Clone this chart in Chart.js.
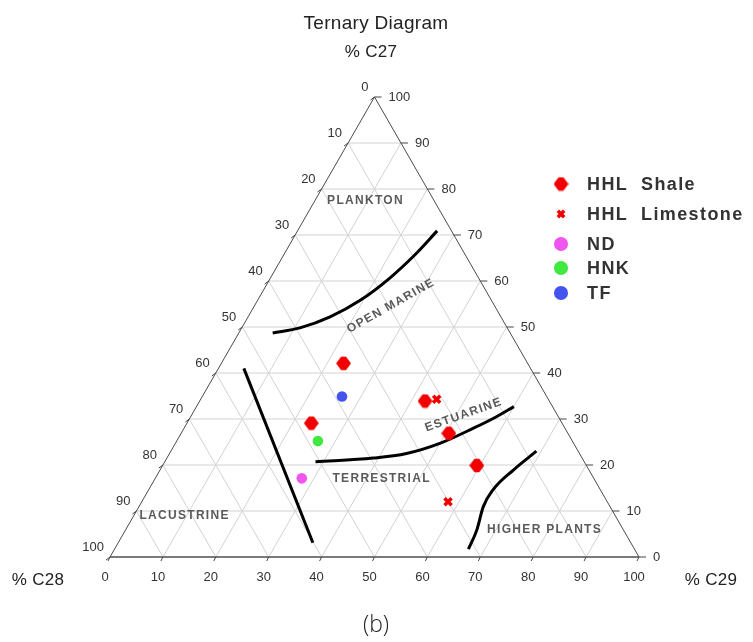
<!DOCTYPE html>
<html>
<head>
<meta charset="utf-8">
<script src="https://cdn.jsdelivr.net/npm/chart.js@4.4.1/dist/chart.umd.min.js"></script>
<style>
  html, body { margin: 0; padding: 0; background: #fff; }
  #wrap { width: 753px; height: 642px; }
</style>
</head>
<body>
<div id="wrap"><canvas id="chart" width="753" height="642"></canvas></div>
<script>
const seriesNames = ["HHL Shale", "HHL Limestone", "ND", "HNK", "TF"];
const seriesColors = ["#f20000", "#f20000", "#f055f0", "#40e840", "#4554ee"];

const shaleC27 = [42.1, 33.9, 29.1, 26.9, 19.9];
const shaleC28 = [34.8, 23.5, 47.4, 22.5, 20.7];
const shaleC29 = [23.1, 42.6, 23.5, 50.6, 59.4];

const limeC27 = [34.3, 12.0];
const limeC28 = [21.1, 30.1];
const limeC29 = [44.6, 57.9];

const ndC27 = [17.1];
const ndC28 = [55.2];
const ndC29 = [27.7];

const hnkC27 = [25.2];
const hnkC28 = [48.1];
const hnkC29 = [26.7];

const tfC27 = [34.9];
const tfC28 = [38.7];
const tfC29 = [26.4];

// field boundaries (% C27, % C29)
const marineC27 = [48.7, 49.8, 52.2, 55.8, 60.7, 65.7, 70.9];
const marineC29 = [6.4, 11.0, 15.5, 19.4, 22.6, 24.8, 26.4];
const lacusC27 = [41.0, 3.1];
const lacusC29 = [4.8, 36.8];
const estuC27 = [20.7, 21.5, 22.5, 24.7, 28.0, 30.5, 32.7];
const estuC29 = [28.5, 39.0, 44.8, 50.0, 54.7, 57.8, 60.0];
const plantsC27 = [23.0, 18.9, 14.6, 10.9, 5.9, 1.7];
const plantsC29 = [69.1, 66.8, 65.1, 65.1, 66.4, 66.9];

const tickValues = [0, 10, 20, 30, 40, 50, 60, 70, 80, 90, 100];

const fieldNames = ["PLANKTON", "OPEN MARINE", "ESTUARINE", "TERRESTRIAL", "LACUSTRINE", "HIGHER PLANTS"];
const fieldC27 = [77.4, 54.6, 30.9, 17.1, 9.0, 5.9];
const fieldC29 = [9.6, 25.8, 51.4, 42.8, 9.6, 79.2];
const fieldAngle = [0, -29.5, -19.5, 0, 0, 0];

// ternary -> plane
const toXY = (c27, c29) => ({ x: c29 + c27 / 2, y: c27 });
const pts = (a27, a29) => a27.map((v, i) => toXY(v, a29[i]));

// blunt diamond used for the shale marker
function makeGem(color) {
  const c = document.createElement("canvas");
  c.width = 15; c.height = 15;
  const g = c.getContext("2d");
  g.fillStyle = color;
  g.strokeStyle = color;
  g.lineJoin = "round";
  g.lineWidth = 1.5;
  g.beginPath();
  g.moveTo(5.5, 1.5); g.lineTo(9.5, 1.5); g.lineTo(14, 7.5);
  g.lineTo(9.5, 13.5); g.lineTo(5.5, 13.5); g.lineTo(1, 7.5);
  g.closePath();
  g.fill();
  g.stroke();
  return c;
}
const gem = makeGem(seriesColors[0]);
const seriesStyles = [gem, "crossRot", "circle", "circle", "circle"];

const sampleData = [
  pts(shaleC27, shaleC29),
  pts(limeC27, limeC29),
  pts(ndC27, ndC29),
  pts(hnkC27, hnkC29),
  pts(tfC27, tfC29)
];

const datasets = [];

sampleData.forEach((d, i) => {
  const cross = seriesStyles[i] === "crossRot";
  datasets.push({
    label: seriesNames[i],
    data: d,
    showLine: false,
    pointStyle: seriesStyles[i],
    pointRadius: cross ? 5 : 5.3,
    pointBorderWidth: cross ? 3.5 : 0,
    backgroundColor: seriesColors[i],
    borderColor: seriesColors[i],
    order: 0
  });
});

function lineSet(data, color, width, order, smooth) {
  return {
    data: data,
    showLine: true,
    pointRadius: 0,
    borderColor: color,
    borderWidth: width,
    cubicInterpolationMode: smooth ? "monotone" : "default",
    fill: false,
    order: order
  };
}

datasets.push(lineSet(pts(marineC27, marineC29), "#000", 3, 1, true));
datasets.push(lineSet(pts(lacusC27, lacusC29), "#000", 3, 1));
datasets.push(lineSet(pts(estuC27, estuC29), "#000", 3, 1, true));
datasets.push(lineSet(pts(plantsC27, plantsC29), "#000", 3, 1, true));

// triangle outline
datasets.push(lineSet([toXY(0, 0), toXY(100, 0), toXY(0, 100)], "#4a4a4a", 1, 2));
datasets.push(lineSet([toXY(0, 0), toXY(0, 100)], "#7a7a7a", 2, 2));

// grid
tickValues.slice(1, -1).forEach(k => {
  datasets.push(lineSet([toXY(k, 0), toXY(k, 100 - k)], "#d2d2d2", 1, 3));
  datasets.push(lineSet([toXY(0, k), toXY(100 - k, k)], "#d2d2d2", 1, 3));
  datasets.push(lineSet([toXY(0, 100 - k), toXY(100 - k, 0)], "#d2d2d2", 1, 3));
});

const ternaryDecor = {
  id: "ternaryDecor",
  afterDraw(chart) {
    const ctx = chart.ctx;
    const xs = chart.scales.x, ys = chart.scales.y;
    const P = (c27, c29) => {
      const p = toXY(c27, c29);
      return [xs.getPixelForValue(p.x), ys.getPixelForValue(p.y)];
    };
    ctx.save();

    // ticks and tick labels
    ctx.strokeStyle = "#444";
    ctx.lineWidth = 1;
    ctx.fillStyle = "#333";
    ctx.font = "13px 'Liberation Sans', Arial, sans-serif";
    tickValues.forEach(k => {
      // left: % C28
      let [x, y] = P(100 - k, 0);
      ctx.beginPath(); ctx.moveTo(x, y); ctx.lineTo(x - 4, y + 3); ctx.stroke();
      ctx.textAlign = "right"; ctx.textBaseline = "middle";
      ctx.fillText(String(k), x - 6, y - 10);
      // right: % C27
      [x, y] = P(k, 100 - k);
      ctx.beginPath(); ctx.moveTo(x, y); ctx.lineTo(x + 7, y); ctx.stroke();
      ctx.textAlign = "left";
      ctx.fillText(String(k), x + 14, y);
      // bottom: % C29
      [x, y] = P(0, k);
      ctx.beginPath(); ctx.moveTo(x, y); ctx.lineTo(x - 2, y + 4); ctx.stroke();
      ctx.textAlign = "center";
      ctx.fillText(String(k), x - 5, y + 20);
    });

    // axis names and title
    ctx.fillStyle = "#222";
    ctx.textAlign = "center"; ctx.textBaseline = "middle";
    ctx.font = "19px 'Liberation Sans', Arial, sans-serif";
    ctx.letterSpacing = "0.3px";
    ctx.fillText("Ternary Diagram", 376, 24);
    ctx.font = "17px 'Liberation Sans', Arial, sans-serif";
    ctx.fillText("% C27", 371, 52);
    ctx.fillText("% C28", 38, 580);
    ctx.fillText("% C29", 711, 580);
    ctx.letterSpacing = "0px";
    ctx.font = "300 23px 'Open Sans', 'DejaVu Sans', sans-serif";
    ctx.fillText("(b)", 376, 625);

    // field names
    ctx.fillStyle = "#5a5a5a";
    ctx.font = "bold 12px 'Liberation Sans', Arial, sans-serif";
    ctx.letterSpacing = "1.3px";
    fieldNames.forEach((n, i) => {
      const [x, y] = P(fieldC27[i], fieldC29[i]);
      ctx.save();
      ctx.translate(x, y);
      ctx.rotate(fieldAngle[i] * Math.PI / 180);
      ctx.fillText(n, 0, 0);
      ctx.restore();
    });

    // legend
    const legendY = [184, 214, 244, 268, 293];
    ctx.font = "bold 18px 'Liberation Sans', Arial, sans-serif";
    ctx.letterSpacing = "1.4px";
    ctx.textAlign = "left";
    seriesNames.forEach((n, i) => {
      const ly = legendY[i];
      const cross = seriesStyles[i] === "crossRot";
      ctx.fillStyle = seriesColors[i];
      ctx.strokeStyle = seriesColors[i];
      ctx.lineWidth = cross ? 3.5 : 0;
      Chart.helpers.drawPoint(ctx, {
        pointStyle: seriesStyles[i],
        radius: cross ? 4.5 : 5.3,
        rotation: 0,
        borderWidth: ctx.lineWidth
      }, 561, ly);
      ctx.fillStyle = "#333";
      ctx.fillText(n.replace(" ", "  "), 587, ly + 1);
    });

    ctx.restore();
  }
};

new Chart(document.getElementById("chart"), {
  type: "scatter",
  data: { datasets: datasets },
  options: {
    responsive: false,
    maintainAspectRatio: false,
    animation: false,
    events: [],
    clip: false,
    layout: { padding: { left: 110, right: 114, top: 97, bottom: 85 } },
    scales: {
      x: { type: "linear", min: 0, max: 100, display: false },
      y: { type: "linear", min: 0, max: 100, display: false }
    },
    plugins: {
      legend: { display: false },
      tooltip: { enabled: false }
    }
  },
  plugins: [ternaryDecor]
});
</script>
</body>
</html>
